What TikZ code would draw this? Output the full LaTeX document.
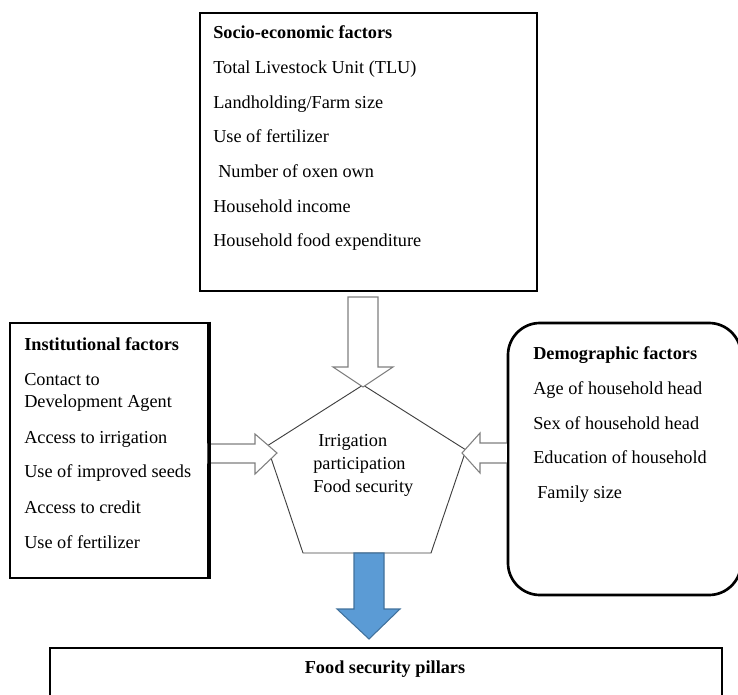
\documentclass[tikz,border=0pt]{standalone}
\usepackage{fontspec}
\setmainfont{Liberation Serif}
\usetikzlibrary{fit}
\definecolor{arrowblue}{HTML}{5B9BD5}
\definecolor{arrowedge}{HTML}{41719C}
\definecolor{hollowedge}{HTML}{7F7F7F}
\definecolor{pentedge}{HTML}{404040}
\begin{document}
\begin{tikzpicture}[x=0.75pt,y=-0.75pt,
  frame/.style={draw=black, line width=2pt, inner sep=0pt},
  txt/.style={anchor=base west, inner sep=0pt, font=\fontsize{13.7}{16}\selectfont},
  headtxt/.style={anchor=base west, inner sep=0pt, font=\fontsize{13.7}{16}\selectfont\bfseries},
  hollow/.style={draw=hollowedge, fill=white, line width=0.8pt, line join=miter},
  bluearrow/.style={fill=arrowblue, draw=arrowedge, line width=0.8pt, line join=miter},
  pent/.style={draw=pentedge, line width=0.7pt}]
\useasboundingbox (0,0) rectangle (738,695);
\clip (0,0) rectangle (738,695);

% frames
\node[frame, fit={(200,13) (537,291)}] (socio) {};
\node[frame, fit={(10,323) (208,578)}] (inst) {};
\node[frame, rounded corners=24pt, fit={(508,323) (741,595)}] (demo) {};
\node[frame, fit={(50,648) (722,760)}] (pillars) {};

% pentagon
\coordinate (pT) at (363,385);
\coordinate (pR) at (466,450);
\coordinate (pBR) at (431,553);
\coordinate (pBL) at (303,553);
\coordinate (pL) at (267,446);
\draw[pent] (pT) -- (pR) -- (pBR) -- (pBL) -- (pL) -- cycle;
\node[txt] (c1) at (318,446) {Irrigation};
\node[txt] (c2) at (313,469) {participation};
\node[txt] (c3) at (313,492) {Food security};

% hollow arrows
\coordinate (tipT) at (363,387);
\draw[hollow] (348,297) -- (378,297) -- (378,367) -- (393,367) -- (tipT) -- (333,367) -- (348,367) -- cycle;
\coordinate (tipL) at (277,453);
\draw[hollow] (208,444) -- (255,444) -- (255,434) -- (tipL) -- (255,474) -- (255,463) -- (208,463) -- cycle;
\coordinate (tipR) at (462,453);
\draw[hollow] (508,443) -- (480,443) -- (480,433) -- (tipR) -- (480,473) -- (480,463) -- (508,463) -- cycle;
% redraw frame edges over arrow ends
\draw[line width=2pt] (inst.north east) -- (inst.south east);
\draw[line width=2pt] (508,360) -- (508,560);

% blue arrow
\coordinate (tipB) at (369,639);
\draw[bluearrow] (354,553) -- (384,553) -- (384,609) -- (400,609) -- (tipB) -- (337,609) -- (354,609) -- cycle;

% socio-economic texts
\node[headtxt] (s0) at (213,39) {Socio-economic factors};
\node[txt] (s1) at (213,73.5) {Total Livestock Unit (TLU)};
\node[txt] (s2) at (213,108.2) {Landholding/Farm size};
\node[txt] (s3) at (213,143) {Use of fertilizer};
\node[txt] (s4) at (218,177.6) {Number of oxen own};
\node[txt] (s5) at (213,212.3) {Household income};
\node[txt] (s6) at (213,247) {Household food expenditure};

% institutional texts
\node[headtxt] (i0) at (24,350) {Institutional factors};
\node[txt] (i1) at (24,385) {Contact to};
\node[txt] (i2) at (24,407) {Development Agent};
\node[txt] (i3) at (24,443) {Access to irrigation};
\node[txt] (i4) at (24,477) {Use of improved seeds};
\node[txt] (i5) at (24,513) {Access to credit};
\node[txt] (i6) at (24,548) {Use of fertilizer};

% demographic texts
\node[headtxt] (d0) at (533,359) {Demographic factors};
\node[txt] (d1) at (533,394) {Age of household head};
\node[txt] (d2) at (533,429) {Sex of household head};
\node[txt] (d3) at (533,463) {Education of household};
\node[txt] (d4) at (537,498) {Family size};

% pillars
\node[anchor=base, inner sep=0pt, font=\fontsize{13.7}{16}\selectfont\bfseries] (p0) at (385,673) {Food security pillars};
\end{tikzpicture}
\end{document}
